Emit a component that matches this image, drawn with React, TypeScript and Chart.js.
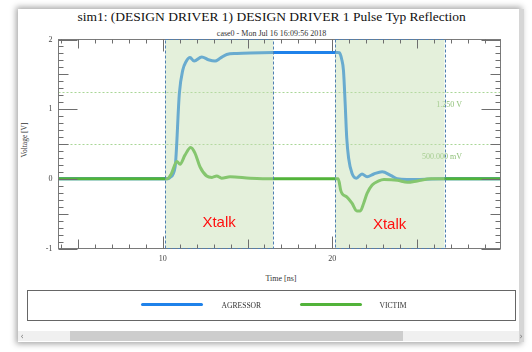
import React, { useEffect, useRef } from "react";
import { Chart, registerables } from "chart.js";

Chart.register(...registerables);

const X_MIN = 3.85;
const X_MAX = 29.92;
const Y_MIN = -1;
const Y_MAX = 2;

const aggressorTime = [3.85, 10.3, 10.43, 10.73, 10.98, 11.18, 11.37, 11.61, 11.85, 12.3, 12.69, 13.08, 13.38, 13.77, 14.36, 15.15, 16.52, 20.3, 20.42, 20.55, 20.66, 20.76, 20.85, 20.96, 21.16, 21.42, 21.75, 22.05, 22.45, 22.94, 23.44, 23.83, 24.4, 26.6, 29.92];
const aggressorVolt = [0, 0, 0.02, 0.175, 1.23, 1.56, 1.68, 1.74, 1.69, 1.75, 1.71, 1.69, 1.73, 1.785, 1.8, 1.808, 1.812, 1.812, 1.81, 1.72, 1.55, 1.07, 0.59, 0.3, 0.08, 0.01, 0.07, 0.03, 0.07, 0.1, 0.05, 0.0, -0.01, 0, 0];

const victimTime = [3.85, 10.26, 10.5, 10.83, 11.02, 11.31, 11.65, 11.9, 12.2, 12.59, 12.9, 13.18, 13.47, 13.97, 15.15, 16.5, 20.35, 20.5, 20.6, 20.85, 21.16, 21.45, 21.65, 21.85, 22.05, 22.35, 22.74, 23.04, 23.83, 24.43, 25.02, 25.82, 29.92];
const victimVolt = [0, 0, 0.07, 0.25, 0.21, 0.34, 0.45, 0.37, 0.17, 0.04, 0.02, 0.04, 0.01, 0.03, 0.01, 0, 0, -0.17, -0.22, -0.26, -0.35, -0.46, -0.46, -0.35, -0.21, -0.09, -0.03, -0.01, -0.02, -0.05, -0.03, 0, 0];

const regionStarts = [10.14, 20.16];
const regionEnds = [16.52, 26.62];
const regionLabel = "Xtalk";
const regionLabelX = [13.32, 23.38];
const regionLabelY = [-0.63, -0.66];

const refLevels = [1.25, 0.5];
const refLabels = ["1.250 V", "500.000 mV"];
const refLabelX = 27.65;

const yTickLabels = [-1, 0, 1, 2];
const xTickLabels = [10, 20];

const AGG_COLOR = "#1f82ea";
const VIC_COLOR = "#52b33a";

const decor = {
  id: "decor",
  beforeDatasetsDraw(chart: any) {
    const { ctx, chartArea: a, scales } = chart;
    const x = scales.x;
    const y = scales.y;
    ctx.save();
    ctx.lineWidth = 1;
    ctx.strokeStyle = "#a9d696";
    ctx.setLineDash([2, 2]);
    refLevels.forEach((v, i) => {
      const py = Math.round(y.getPixelForValue(v)) + 0.5;
      ctx.beginPath();
      ctx.moveTo(a.left, py);
      ctx.lineTo(a.right, py);
      ctx.stroke();
      ctx.font = "8px 'Liberation Serif'";
      ctx.fillStyle = "#8fc078";
      ctx.textAlign = "right";
      ctx.textBaseline = "middle";
      ctx.fillText(refLabels[i], x.getPixelForValue(refLabelX), py + 12.5);
    });
    ctx.restore();
  },
  afterDatasetsDraw(chart: any) {
    const { ctx, chartArea: a, scales } = chart;
    const x = scales.x;
    const y = scales.y;
    ctx.save();
    // shading over the traces
    ctx.fillStyle = "rgba(195,222,175,0.45)";
    regionStarts.forEach((s, i) => {
      const x0 = x.getPixelForValue(s);
      const x1 = x.getPixelForValue(regionEnds[i]);
      ctx.fillRect(x0, a.top, x1 - x0, a.bottom - a.top);
    });
    // frame
    ctx.lineWidth = 1;
    ctx.strokeStyle = "#7a7a7a";
    ctx.strokeRect(a.left, a.top, a.right - a.left, a.bottom - a.top);
    // x ticks (top and bottom)
    ctx.strokeStyle = "#6e6e6e";
    for (let t = Math.ceil(X_MIN); t <= Math.floor(X_MAX); t++) {
      const len = t % 10 === 0 ? 12 : t % 5 === 0 ? 9 : 4;
      const px = Math.round(x.getPixelForValue(t)) + 0.5;
      ctx.beginPath();
      ctx.moveTo(px, a.bottom);
      ctx.lineTo(px, a.bottom - len);
      ctx.moveTo(px, a.top);
      ctx.lineTo(px, a.top + len);
      ctx.stroke();
    }
    // y ticks (left and right)
    for (let k = Y_MIN * 10; k <= Y_MAX * 10; k++) {
      const len = k % 10 === 0 ? 19 : k % 5 === 0 ? 10 : 5;
      const py = Math.round(y.getPixelForValue(k / 10)) + 0.5;
      ctx.beginPath();
      ctx.moveTo(a.left, py);
      ctx.lineTo(a.left + len, py);
      ctx.moveTo(a.right, py);
      ctx.lineTo(a.right - len, py);
      ctx.stroke();
    }
    // dashed region borders
    ctx.strokeStyle = "#4f7fb2";
    ctx.setLineDash([3, 2]);
    regionStarts.forEach((s, i) => {
      const x0 = Math.round(x.getPixelForValue(s)) + 0.5;
      const x1 = Math.round(x.getPixelForValue(regionEnds[i])) + 0.5;
      ctx.strokeRect(x0, a.top, x1 - x0, a.bottom - a.top);
    });
    ctx.setLineDash([]);
    // Xtalk labels
    ctx.fillStyle = "#ff1010";
    ctx.font = "15px 'Liberation Sans'";
    ctx.textAlign = "center";
    ctx.textBaseline = "middle";
    regionLabelX.forEach((t, i) => {
      ctx.fillText(regionLabel, x.getPixelForValue(t), y.getPixelForValue(regionLabelY[i]));
    });
    // tick labels
    ctx.fillStyle = "#444";
    ctx.font = "8px 'Liberation Serif'";
    ctx.textAlign = "right";
    yTickLabels.forEach((v) => {
      ctx.fillText(String(v), a.left - 6, y.getPixelForValue(v));
    });
    ctx.textAlign = "center";
    xTickLabels.forEach((t) => {
      ctx.fillText(String(t), x.getPixelForValue(t), a.bottom + 10);
    });
    ctx.restore();
  },
};

function pos(left: number, top: number, extra: React.CSSProperties = {}): React.CSSProperties {
  return { position: "absolute", left, top, ...extra };
}

export default function App() {
  const ref = useRef<HTMLCanvasElement>(null);
  useEffect(() => {
    const canvas = ref.current;
    if (!canvas) return;
    const chart = new Chart(canvas, {
      type: "line",
      data: {
        datasets: [
          {
            label: "VICTIM",
            data: victimTime.map((t, i) => ({ x: t, y: victimVolt[i] })),
            borderColor: VIC_COLOR,
            borderWidth: 3,
            pointRadius: 0,
            cubicInterpolationMode: "monotone",
            order: 0,
          },
          {
            label: "AGRESSOR",
            data: aggressorTime.map((t, i) => ({ x: t, y: aggressorVolt[i] })),
            borderColor: AGG_COLOR,
            borderWidth: 3,
            pointRadius: 0,
            cubicInterpolationMode: "monotone",
            order: 1,
          },
        ],
      },
      options: {
        animation: false,
        responsive: false,
        devicePixelRatio: 1,
        layout: { padding: { left: 58.5, top: 39.5, right: 31.5, bottom: 103.5 } },
        scales: {
          x: { type: "linear", min: X_MIN, max: X_MAX, display: false },
          y: { type: "linear", min: Y_MIN, max: Y_MAX, display: false },
        },
        plugins: { legend: { display: false }, tooltip: { enabled: false }, title: { display: false } },
      },
      plugins: [decor],
    } as any);
    return () => chart.destroy();
  }, []);

  const serif = "'Liberation Serif', 'Times New Roman', serif";
  const center: React.CSSProperties = { transform: "translate(-50%, -50%)", whiteSpace: "nowrap", fontFamily: serif };

  return (
    <div style={{ position: "fixed", left: 0, top: 0, width: 532, height: 352, background: "#fff", overflow: "hidden" }}>
      <div style={pos(18, 9, { width: 502, height: 333, background: "#fff", boxShadow: "0 0 6px 2px rgba(0,0,0,0.35)" })} />
      <div style={pos(519, 9, { width: 5, height: 333, background: "#d6d6d6" })} />
      <div style={pos(271.6, 16.5, { ...center, fontSize: 13.5, color: "#111" })}>
        sim1: (DESIGN DRIVER 1) DESIGN DRIVER 1 Pulse Typ Reflection
      </div>
      <div style={pos(271.5, 33, { ...center, fontSize: 8, color: "#333" })}>case0 - Mon Jul 16 16:09:56 2018</div>
      <div style={pos(23.5, 140, { ...center, fontSize: 7.5, color: "#333", transform: "translate(-50%, -50%) rotate(-90deg)" })}>
        Voltage [V]
      </div>
      <div style={pos(281, 278, { ...center, fontSize: 8, color: "#333" })}>Time [ns]</div>
      <canvas ref={ref} width={532} height={352} style={{ position: "absolute", left: 0, top: 0, width: 532, height: 352 }} />
      <div style={pos(27, 290, { width: 489, height: 31, border: "1px solid #666", boxSizing: "border-box" })} />
      <div style={pos(141, 303, { width: 62, height: 3, borderRadius: 2, background: AGG_COLOR })} />
      <div style={pos(221.5, 304.5, { ...center, transform: "translate(0, -50%)", fontSize: 7.6, color: "#333" })}>AGRESSOR</div>
      <div style={pos(300, 303, { width: 62, height: 3, borderRadius: 2, background: VIC_COLOR })} />
      <div style={pos(379.5, 304.5, { ...center, transform: "translate(0, -50%)", fontSize: 7.6, color: "#333" })}>VICTIM</div>
      <div style={pos(18, 331, { width: 501, height: 10, background: "#f0f0f0" })} />
      <div style={pos(70, 331, { width: 333, height: 10, background: "#cdcdcd" })} />
      <div style={pos(22, 336, { ...center, fontFamily: "'DejaVu Sans'", fontSize: 8, color: "#777" })}>‹</div>
      <div style={pos(521, 336, { ...center, fontFamily: "'DejaVu Sans'", fontSize: 8, color: "#777" })}>›</div>
    </div>
  );
}
